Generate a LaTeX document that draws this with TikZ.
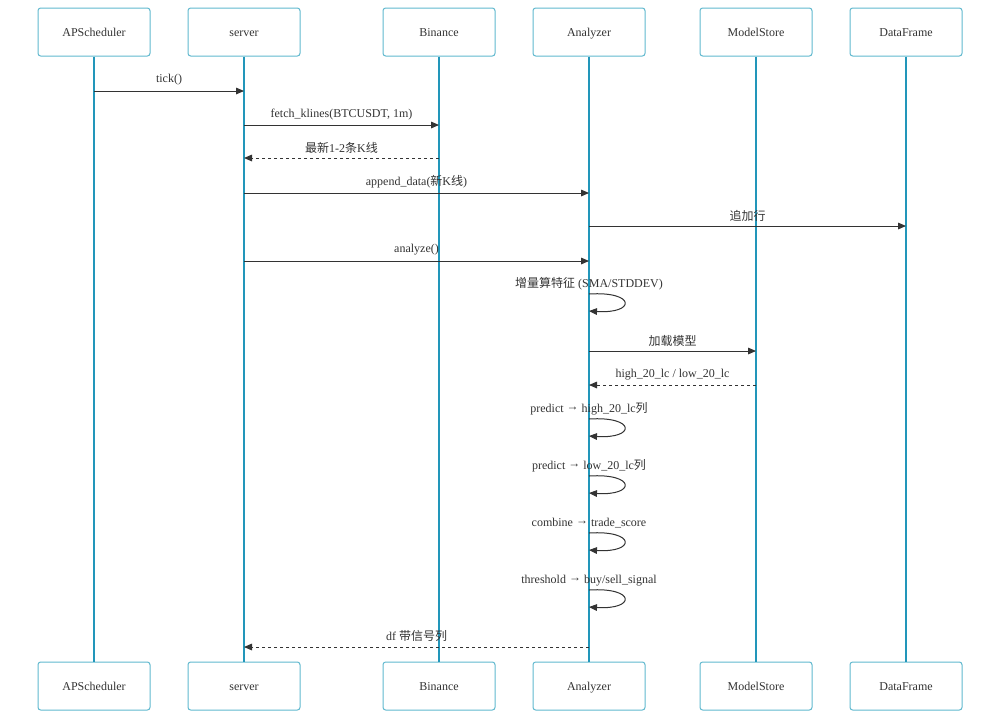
\documentclass[tikz,border=0pt]{standalone}
\usepackage{fontspec}
\setmainfont{Liberation Serif}
\newfontfamily\cjk{Noto Sans CJK SC}
\usetikzlibrary{arrows.meta,calc}
\definecolor{lifeteal}{RGB}{34,150,186}
\definecolor{boxteal}{RGB}{96,184,206}
\definecolor{msgdark}{RGB}{51,51,51}
\newcommand\toarr{\raisebox{1pt}{→}}
\tikzset{
  fig/.style={font=\fontsize{9}{11}\selectfont,text=msgdark},
  actor/.style={draw=boxteal,line width=0.75pt,rounded corners=2pt,
                minimum width=84pt,minimum height=36pt,inner sep=0pt,
                text height=8pt,text depth=1.5pt},
  life/.style={draw=lifeteal,line width=1.5pt},
  msg/.style={-{Triangle[length=6pt,width=5pt]},draw=msgdark,line width=0.75pt},
  reply/.style={msg,dash pattern=on 2.25pt off 2.25pt},
  lbl/.style={inner sep=0pt,anchor=base},
}

\begin{document}
\begin{tikzpicture}[fig,x=0.75pt,y=-0.75pt]
\useasboundingbox (0,0) rectangle (1000,719);

% =======================  participants  =====================
\node[actor] (schedT) at (94,32)  {APScheduler};
\node[actor] (srvT)   at (244,32) {server};
\node[actor] (binT)   at (439,32) {Binance};
\node[actor] (anaT)   at (589,32) {Analyzer};
\node[actor] (storeT) at (756,32) {ModelStore};
\node[actor] (dfT)    at (906,32) {DataFrame};

\node[actor] (schedB) at (94,686)  {APScheduler};
\node[actor] (srvB)   at (244,686) {server};
\node[actor] (binB)   at (439,686) {Binance};
\node[actor] (anaB)   at (589,686) {Analyzer};
\node[actor] (storeB) at (756,686) {ModelStore};
\node[actor] (dfB)    at (906,686) {DataFrame};

\draw[life] (schedT) -- (schedB);
\draw[life] (srvT) -- (srvB);
\draw[life] (binT) -- (binB);
\draw[life] (anaT) -- (anaB);
\draw[life] (storeT) -- (storeB);
\draw[life] (dfT) -- (dfB);

% =======================  message rows  =====================
\coordinate (r1) at (0,91);
\coordinate (r2) at (0,125);
\coordinate (r3) at (0,158);
\coordinate (r4) at (0,193);
\coordinate (r5) at (0,226);
\coordinate (r6) at (0,261);
\coordinate (r7) at (0,351);
\coordinate (r8) at (0,385);
\coordinate (r9) at (0,647);
% self calls: top of each loop
\coordinate (s1) at (0,294);
\coordinate (s2) at (0,419);
\coordinate (s3) at (0,476);
\coordinate (s4) at (0,533);
\coordinate (s5) at (0,590);

\draw[msg] (schedT |- r1) -- (srvT |- r1)
      node[lbl,midway,yshift=6.5pt] {tick()};
\draw[msg] (srvT |- r2) -- (binT |- r2)
      node[lbl,midway,yshift=6pt] {fetch\_klines(BTCUSDT, 1m)};
\draw[reply] (binT |- r3) -- (srvT |- r3)
      node[lbl,midway,yshift=4pt] {{\cjk 最新}1-2{\cjk 条}K{\cjk 线}};
\draw[msg] (srvT |- r4) -- (anaT |- r4)
      node[lbl,midway,yshift=6pt] {append\_data({\cjk 新}K{\cjk 线})};
\draw[msg] (anaT |- r5) -- (dfT |- r5)
      node[lbl,midway,yshift=4.5pt] {\cjk 追加行};
\draw[msg] (srvT |- r6) -- (anaT |- r6)
      node[lbl,midway,yshift=6.5pt] {analyze()};

\draw[msg] (anaT |- s1) .. controls +(47,-3) and +(47,3) .. ($(anaT |- s1)+(0,17)$);
\node[lbl] (t1) at ($(anaT |- s1)+(0,-7)$) {{\cjk 增量算特征} (SMA/STDDEV)};

\draw[msg] (anaT |- r7) -- (storeT |- r7)
      node[lbl,midway,yshift=4.5pt] {\cjk 加载模型};
\draw[reply] (storeT |- r8) -- (anaT |- r8)
      node[lbl,midway,yshift=6pt] {high\_20\_lc / low\_20\_lc};

\draw[msg] (anaT |- s2) .. controls +(47,-3) and +(47,3) .. ($(anaT |- s2)+(0,17)$);
\node[lbl] (t2) at ($(anaT |- s2)+(0,-7)$) {predict \toarr{} high\_20\_lc{\cjk 列}};
\draw[msg] (anaT |- s3) .. controls +(47,-3) and +(47,3) .. ($(anaT |- s3)+(0,17)$);
\node[lbl] (t3) at ($(anaT |- s3)+(0,-7)$) {predict \toarr{} low\_20\_lc{\cjk 列}};
\draw[msg] (anaT |- s4) .. controls +(47,-3) and +(47,3) .. ($(anaT |- s4)+(0,17)$);
\node[lbl] (t4) at ($(anaT |- s4)+(0,-7)$) {combine \toarr{} trade\_score};
\draw[msg] (anaT |- s5) .. controls +(47,-3) and +(47,3) .. ($(anaT |- s5)+(0,17)$);
\node[lbl] (t5) at ($(anaT |- s5)+(0,-7)$) {threshold \toarr{} buy/sell\_signal};

\draw[reply] (anaT |- r9) -- (srvT |- r9)
      node[lbl,midway,yshift=5pt] {df {\cjk 带信号列}};

\end{tikzpicture}
\end{document}
